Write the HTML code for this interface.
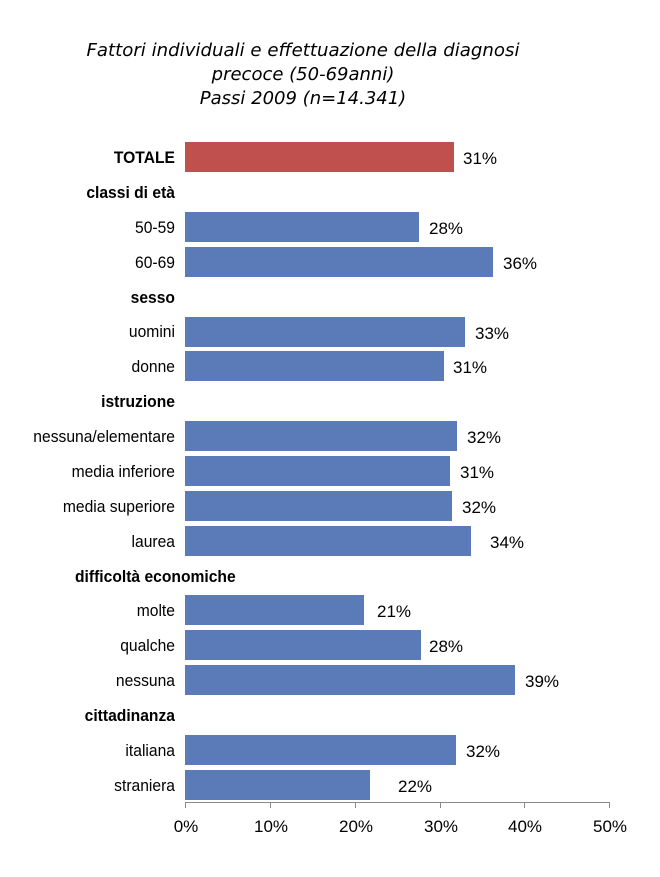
<!DOCTYPE html>
<html><head><meta charset="utf-8"><style>
html,body{margin:0;padding:0;background:#fff;}
svg{display:block;font-family:"Liberation Sans",sans-serif;}
</style></head><body>
<svg width="660" height="877" viewBox="0 0 660 877" xmlns="http://www.w3.org/2000/svg">
<g font-style="italic" font-size="18" text-anchor="middle" fill="#000" font-family="DejaVu Sans, sans-serif">
<text x="303" y="56" textLength="433" lengthAdjust="spacingAndGlyphs">Fattori individuali e effettuazione della diagnosi</text>
<text x="303" y="80">precoce (50-69anni)</text>
<text x="303" y="104">Passi 2009 (n=14.341)</text>
</g>
<g font-size="17" fill="#000" text-anchor="end" transform="scale(0.92,1)">
<text x="190.2" y="163" font-weight="bold">TOTALE</text>
<text x="190.2" y="198" font-weight="bold">classi di età</text>
<text x="190.2" y="233">50-59</text>
<text x="190.2" y="268">60-69</text>
<text x="190.2" y="303" font-weight="bold">sesso</text>
<text x="190.2" y="337">uomini</text>
<text x="190.2" y="372">donne</text>
<text x="190.2" y="407" font-weight="bold">istruzione</text>
<text x="190.2" y="442">nessuna/elementare</text>
<text x="190.2" y="477">media inferiore</text>
<text x="190.2" y="512">media superiore</text>
<text x="190.2" y="547">laurea</text>
<text x="81.5" y="582" font-weight="bold" text-anchor="start">difficoltà economiche</text>
<text x="190.2" y="616">molte</text>
<text x="190.2" y="651">qualche</text>
<text x="190.2" y="686">nessuna</text>
<text x="190.2" y="721" font-weight="bold">cittadinanza</text>
<text x="190.2" y="756">italiana</text>
<text x="190.2" y="791">straniera</text>
</g>
<g fill="#5b7bb8">
<rect x="185" y="142" width="269" height="30" fill="#c0504d"/>
<rect x="185" y="212" width="234" height="30"/>
<rect x="185" y="247" width="308" height="30"/>
<rect x="185" y="317" width="280" height="30"/>
<rect x="185" y="351" width="259" height="30"/>
<rect x="185" y="421" width="272" height="30"/>
<rect x="185" y="456" width="265" height="30"/>
<rect x="185" y="491" width="267" height="30"/>
<rect x="185" y="526" width="286" height="30"/>
<rect x="185" y="595" width="179" height="30"/>
<rect x="185" y="630" width="236" height="30"/>
<rect x="185" y="665" width="330" height="30"/>
<rect x="185" y="735" width="271" height="30"/>
<rect x="185" y="770" width="185" height="30"/>
</g>
<g font-size="17" fill="#000">
<text x="463" y="164">31%</text>
<text x="429" y="234">28%</text>
<text x="503" y="269">36%</text>
<text x="475" y="339">33%</text>
<text x="453" y="373">31%</text>
<text x="467" y="443">32%</text>
<text x="460" y="478">31%</text>
<text x="462" y="513">32%</text>
<text x="490" y="548">34%</text>
<text x="377" y="617">21%</text>
<text x="429" y="652">28%</text>
<text x="525" y="687">39%</text>
<text x="466" y="757">32%</text>
<text x="398" y="792">22%</text>
</g>
<g stroke="#888" stroke-width="1">
<line x1="185" y1="802.5" x2="609" y2="802.5"/>
<line x1="185.5" y1="802" x2="185.5" y2="808"/>
<line x1="270.5" y1="802" x2="270.5" y2="808"/>
<line x1="355.5" y1="802" x2="355.5" y2="808"/>
<line x1="440.5" y1="802" x2="440.5" y2="808"/>
<line x1="524.5" y1="802" x2="524.5" y2="808"/>
<line x1="609.5" y1="802" x2="609.5" y2="808"/>
</g>
<g font-size="17" fill="#000" text-anchor="middle">
<text x="186" y="832">0%</text>
<text x="271" y="832">10%</text>
<text x="356" y="832">20%</text>
<text x="441" y="832">30%</text>
<text x="525" y="832">40%</text>
<text x="610" y="832">50%</text>
</g>
</svg>
</body></html>
